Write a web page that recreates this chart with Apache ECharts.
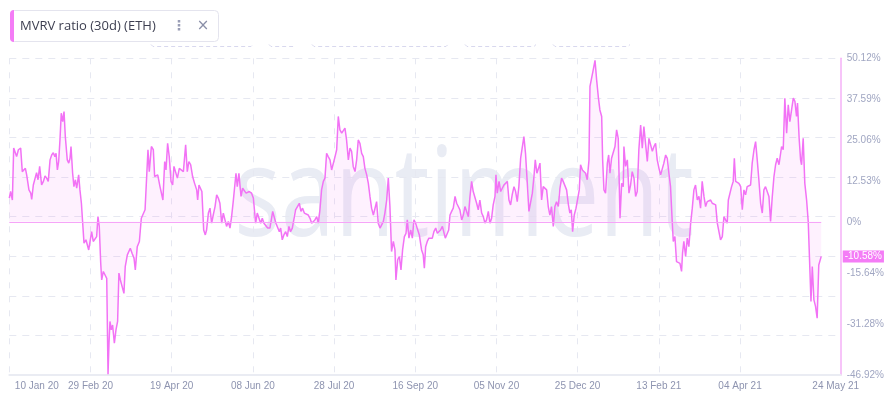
<!DOCTYPE html>
<html>
<head>
<meta charset="utf-8">
<script src="https://cdn.jsdelivr.net/npm/echarts@6/dist/echarts.min.js"></script>
<style>
html,body{margin:0;padding:0;background:#fff;}
#chart{width:895px;height:395px;}
</style>
</head>
<body>
<div id="chart"></div>
<script>
// ---- DATA ----
const chartTitle = 'MVRV ratio (30d) (ETH)';
// x: days since 10 Jan 2020
const dayOffsets = [
0.0,0.8,1.9,2.7,3.5,4.5,5.6,7.0,8.0,9.1,9.9,10.7,12.1,13.2,13.8,14.8,15.8,16.8,17.7,18.7,
19.9,21.0,22.0,23.0,24.0,25.1,26.1,27.1,28.1,28.8,29.6,30.4,31.2,32.0,32.9,33.7,34.5,35.7,36.6,37.4,
38.0,39.0,39.8,40.7,41.5,42.7,43.5,44.4,45.2,46.0,47.2,48.0,48.9,49.7,50.7,51.7,52.8,53.8,54.6,55.4,
56.3,56.9,57.9,59.1,60.0,60.8,61.4,62.0,62.8,63.6,64.7,65.7,66.7,67.5,68.4,69.4,70.6,71.4,72.7,73.5,
74.5,75.6,76.8,77.6,78.8,80.1,81.3,82.5,83.6,84.6,85.4,86.2,87.5,88.7,89.5,90.3,91.4,92.8,93.6,94.6,
95.7,96.5,97.5,98.5,99.6,100.6,101.4,102.4,103.5,104.7,105.7,107.2,108.6,109.6,110.6,111.7,112.9,114.1,115.4,116.0,
116.8,117.8,118.6,119.7,120.7,121.5,122.6,123.6,124.6,125.6,126.7,
127.7,128.7,129.7,130.8,131.8,132.8,133.8,134.9,135.9,136.9,137.9,138.6,139.6,140.4,141.4,142.7,143.7,144.7,145.8,146.8,
147.8,149.2,150.3,151.7,152.7,153.8,154.8,155.8,156.8,157.9,159.1,160.5,162.2,163.2,164.2,165.3,166.3,167.1,168.1,169.1,
170.2,171.2,172.2,173.2,174.3,175.3,176.3,177.4,178.6,179.6,180.6,181.7,182.7,184.1,185.2,186.2,187.2,188.2,189.3,190.3,
191.3,192.3,193.4,194.4,195.4,196.4,197.5,198.5,199.5,200.6,201.6,202.6,203.6,204.7,205.7,206.7,207.7,208.8,209.8,210.8,
211.8,212.9,213.9,214.9,215.9,217.0,218.0,219.0,220.1,221.1,222.1,223.1,224.2,225.2,226.2,227.2,228.3,229.3,230.3,231.3,
232.4,233.4,234.4,235.4,236.5,237.5,238.1,239.2,240.2,241.2,242.2,243.3,244.3,245.1,246.1,247.2,248.2,249.2,250.2,251.3,
252.5,
253.9,254.9,255.6,256.4,257.4,258.4,259.5,260.5,261.5,262.6,263.6,264.6,265.6,266.7,267.7,268.5,269.5,270.6,271.4,272.4,
273.4,274.5,275.5,276.5,277.5,278.6,279.6,280.6,281.6,282.7,283.7,284.7,285.7,286.8,287.8,288.8,289.8,290.9,291.9,292.9,
293.9,295.0,296.0,297.0,298.0,299.1,299.7,300.5,301.6,302.6,303.6,304.6,305.6,306.7,307.7,308.7,309.7,310.8,311.8,312.8,
313.8,314.9,315.9,316.9,317.9,319.0,320.0,321.0,322.1,323.1,323.9,324.9,325.9,326.8,327.8,328.8,329.8,330.9,331.9,332.9,
333.9,335.0,336.0,337.0,338.1,339.1,340.1,341.1,342.2,343.2,344.2,345.2,346.1,346.9,347.9,349.0,350.0,351.0,351.8,352.9,
353.9,354.9,355.9,357.0,357.6,358.6,359.6,360.7,361.7,362.7,363.7,364.8,365.4,366.2,367.2,368.3,369.1,369.9,370.9,372.0,
373.0,374.0,375.0,376.1,377.1,378.1,
378.5,379.5,380.6,381.6,382.6,383.6,384.7,385.7,386.7,387.7,388.8,389.8,390.8,391.9,392.9,393.9,394.9,396.0,397.0,398.0,
399.0,400.1,401.1,402.1,403.1,404.2,405.2,406.2,407.2,408.3,408.9,409.9,410.9,411.9,413.0,414.0,414.6,415.4,416.5,417.5,
418.5,419.6,420.6,421.6,422.6,423.7,424.7,425.7,426.7,427.8,428.8,429.8,430.8,431.9,432.9,433.9,435.0,436.0,437.0,438.0,
439.1,440.1,441.1,442.1,442.8,443.8,444.8,445.8,446.5,447.3,448.3,449.3,450.4,451.4,452.4,453.4,454.4,455.5,456.5,457.5,
458.6,459.6,460.6,461.6,462.7,463.7,464.7,465.7,466.8,467.8,468.8,469.8,470.9,471.9,472.9,474.0,475.0,475.6,476.6,477.6,
478.7,479.7,480.7,481.7,482.8,483.8,484.8,485.4,486.4,487.3,487.9,488.9,489.9,491.0,492.0,493.0,493.7,494.5,495.5,496.5,
497.5,498.5,500.0
];
// y: MVRV ratio (30d), percent
const mvrvValues = [
7.3,9.3,6.7,22.6,22.1,20.0,22.1,22.6,15.4,15.1,16.4,14.4,9.8,8.8,6.9,11.3,11.8,15.1,12.9,17.0,
11.3,12.4,14.1,13.4,12.4,19.0,20.5,21.2,20.0,21.0,15.9,18.5,25.1,33.3,30.7,33.8,26.1,19.0,18.0,19.5,
23.1,14.9,10.8,12.9,10.3,14.4,9.8,5.7,-0.4,-6.5,-5.5,-5.7,-8.6,-8.6,-3.0,-6.0,-6.0,-4.5,1.6,-1.4,
-12.7,-17.8,-15.2,-15.2,-17.3,-46.7,-37.2,-30.5,-33.1,-31.6,-37.2,-33.1,-30.5,-15.7,-17.8,-17.3,-21.9,-13.7,-10.1,-9.6,
-8.1,-9.6,-11.1,-14.7,-7.6,-6.0,1.1,1.1,3.7,4.2,22.1,15.4,23.1,22.1,13.9,13.4,14.4,10.8,10.3,6.7,
18.5,15.9,24.1,20.0,12.4,11.3,17.0,16.4,13.4,16.4,16.1,15.4,23.6,15.4,18.5,17.5,13.9,11.8,9.8,6.7,
11.3,10.8,9.3,-2.5,-4.0,-2.5,2.7,4.2,-0.4,2.1,4.7,
8.3,7.3,5.7,-0.4,2.7,3.2,-1.4,0.1,-1.9,1.6,6.2,6.7,14.9,10.8,14.9,7.8,10.3,10.3,8.8,8.3,
9.3,8.8,7.3,-0.4,2.7,2.7,-0.4,1.1,-0.4,-0.9,-1.9,-1.9,3.2,3.7,-0.4,-0.9,-3.0,-1.9,-5.5,-4.0,
-3.0,-4.5,-1.4,-3.0,-1.9,-1.4,3.7,4.2,5.7,3.2,4.2,2.7,2.7,2.1,1.1,-0.4,-0.4,0.6,1.6,-0.4,
3.7,9.8,12.4,13.4,21.0,20.0,19.0,15.9,15.4,20.0,22.1,32.3,28.2,27.2,27.7,28.7,25.1,19.0,22.6,21.6,
17.0,15.4,19.0,25.1,24.1,21.0,20.0,16.4,14.4,11.8,7.8,4.2,2.1,1.6,6.2,-0.4,-1.9,-0.9,0.1,2.7,
6.7,13.4,4.7,-9.1,-6.0,-8.6,-17.8,-11.6,-10.6,-14.7,-8.6,-4.5,-3.5,0.6,-5.0,-2.5,-5.0,0.6,-0.4,0.1,
-4.0,
-8.6,-10.1,-14.2,-7.6,-6.0,-5.0,-4.5,-5.0,-3.0,-1.9,-3.5,-4.0,-2.5,-1.4,-1.4,-5.0,-4.5,-2.5,2.1,3.2,
4.2,7.8,5.7,4.7,3.7,0.6,2.1,4.7,5.2,1.6,7.8,12.4,9.3,8.8,5.7,3.7,6.7,2.7,1.6,-0.4,
0.6,3.2,-0.4,1.1,5.2,7.8,14.4,8.8,12.4,9.3,10.3,11.3,10.8,12.4,6.7,5.2,8.3,10.8,9.3,6.2,
10.8,19.5,20.0,26.1,21.0,11.8,3.2,2.7,8.8,13.9,19.0,14.9,16.4,18.0,6.7,10.8,11.3,9.8,4.7,2.1,
4.7,-1.4,4.7,6.2,4.7,10.3,13.4,12.4,12.9,9.8,5.7,2.7,3.7,-3.0,2.1,4.2,4.7,9.8,17.5,15.9,
16.4,14.9,12.9,19.0,41.5,42.0,46.6,49.5,43.5,38.4,34.3,32.3,19.0,9.8,8.8,18.0,20.5,14.9,19.5,19.0,
23.1,28.2,25.6,1.1,11.8,10.8,
23.1,17.0,19.0,8.8,11.3,15.4,13.4,7.8,9.3,22.1,29.7,22.6,29.2,23.6,18.5,25.6,25.6,21.6,23.1,24.1,
19.0,16.4,14.4,13.9,18.0,20.5,19.5,14.9,10.8,-0.4,-6.0,-4.5,-12.2,-12.7,-12.7,-15.2,-9.6,-6.0,-10.6,-5.0,
-7.6,-0.4,4.2,9.8,11.3,6.7,7.8,4.2,12.4,7.8,4.7,6.2,5.7,6.7,5.7,6.2,5.2,-0.4,-0.4,-5.5,
-4.5,1.6,2.1,-0.4,6.7,7.3,10.8,12.4,19.5,12.4,11.8,11.8,10.8,3.7,9.8,8.3,10.8,10.8,11.3,18.0,
22.1,24.6,19.0,12.9,5.7,2.7,9.8,10.8,10.3,7.8,0.1,7.3,13.9,17.5,19.5,17.5,17.0,23.1,22.1,37.9,
27.2,35.9,30.7,30.2,37.9,36.9,32.3,36.4,25.6,19.0,17.5,25.6,11.8,6.7,0.1,0.1,-24.4,-13.7,-23.9,-25.9,
-29.5,-13.2,-10.58
];
const xTickDays = [0, 50, 100, 150, 200, 250, 300, 350, 400, 450, 500];
const xTickLabels = ['10 Jan 20','29 Feb 20','19 Apr 20','08 Jun 20','28 Jul 20','16 Sep 20','05 Nov 20','25 Dec 20','13 Feb 21','04 Apr 21','24 May 21'];
const xGridDays = [0, 50, 100, 150, 200, 250, 300, 350, 400, 450];
const yTickValues = [50.12, 37.59, 25.06, 12.53, 0, -15.64, -31.28, -46.92];
const yMin = -46.92, yMax = 50.12, xMax = 512;

// ---- CHART ----
const seriesData = dayOffsets.map((d, i) => [d, mvrvValues[i]]);
const lastDay = dayOffsets[dayOffsets.length - 1];
const lastVal = mvrvValues[mvrvValues.length - 1];
const pink = '#f272f5';
const labelColor = '#a0a6c2';
const gridColor = '#e6e8f1';
const font = 'Liberation Sans, Arial, sans-serif';

const chart = echarts.init(document.getElementById('chart'), null, {renderer: 'canvas'});

const bracketSegs = [[151,253],[269,295],[312,448],[465,536],[553,630]];
const graphics = [
  {
    type: 'text', z: -10, x: 464, y: 200, scaleX: 0.78,
    style: {text: 'santiment', fill: '#e9ecf4', font: '400 125px "Open Sans"', textAlign: 'center', textVerticalAlign: 'middle'}
  },
  {type: 'rect', shape: {x: 10.5, y: 10.5, width: 208, height: 31, r: 4}, style: {fill: '#fff', stroke: '#e4e4ee', lineWidth: 1}},
  {type: 'rect', shape: {x: 10, y: 10, width: 4, height: 32, r: [4,0,0,4]}, style: {fill: '#f47cf6'}},
  {type: 'text', x: 20, y: 26.5, style: {text: chartTitle, fill: '#3c3e50', font: '13px "Open Sans"', textVerticalAlign: 'middle'}},
  {type: 'text', x: 179, y: 26, style: {text: '⋮', fill: '#9a9eb6', font: 'bold 14px "DejaVu Sans"', textAlign: 'center', textVerticalAlign: 'middle'}},
  {type: 'text', x: 203, y: 26, style: {text: '×', fill: '#8a8fa8', font: '15px "DejaVu Sans"', textAlign: 'center', textVerticalAlign: 'middle'}}
];
bracketSegs.forEach(s => {
  graphics.push({type: 'polyline', shape: {points: [[s[0], 44.5], [s[0] + 2, 46.5], [s[1] - 2, 46.5], [s[1], 44.5]]},
    style: {stroke: '#d8d8ee', lineWidth: 1, lineDash: [4, 3], fill: null}});
});

chart.setOption({
  animation: false,
  backgroundColor: '#fff',
  graphic: graphics,
  grid: {left: 9.3, right: 54.3, top: 58.3, bottom: 20, containLabel: false, outerBoundsMode: 'none'},
  xAxis: {
    type: 'value', min: 0, max: xMax,
    axisLine: {show: true, onZero: false, lineStyle: {color: '#eaecf3', width: 2}},
    axisTick: {show: false, customValues: xGridDays},
    splitLine: {show: true, lineStyle: {color: gridColor, type: [6, 8], width: 1}},
    axisLabel: {
      customValues: xTickDays, color: '#8e94b0', fontSize: 10, fontFamily: font, margin: 6,
      formatter: function (v) {
        const i = xTickDays.indexOf(v);
        if (i === 0) return '{first|' + xTickLabels[i] + '}';
        if (i === xTickLabels.length - 1) return '{last|' + xTickLabels[i] + '}';
        return i >= 0 ? xTickLabels[i] : '';
      },
      rich: {
        first: {padding: [0, 0, 0, 55], color: '#8e94b0', fontSize: 10, fontFamily: font},
        last: {padding: [0, 0, 0, 29], color: '#8e94b0', fontSize: 10, fontFamily: font}
      }
    }
  },
  yAxis: [
    {
      type: 'value', position: 'right', min: yMin, max: yMax,
      axisLine: {show: true, onZero: false, lineStyle: {color: '#f5b0f7', width: 1.5}},
      axisTick: {show: false},
      splitLine: {show: false},
      axisLabel: {
        customValues: yTickValues, color: labelColor, fontSize: 10, fontFamily: font, margin: 6,
        formatter: v => v + '%'
      }
    },
    {
      type: 'value', position: 'left', min: 0, max: 8, interval: 1,
      axisLine: {show: false}, axisTick: {show: false}, axisLabel: {show: false},
      splitLine: {show: true, lineStyle: {color: gridColor, type: [7, 6], width: 1}}
    }
  ],
  series: [{
    type: 'line', yAxisIndex: 0, data: seriesData, showSymbol: false, symbol: 'none',
    lineStyle: {color: pink, width: 1.5},
    areaStyle: {color: 'rgba(243,115,246,0.14)', origin: 0},
    z: 3,
    markLine: {
      silent: true, symbol: 'none', animation: false,
      data: [
        [{coord: [0, 0], lineStyle: {color: '#f6a5f8', width: 1, type: 'solid'}, label: {show: false}},
         {coord: [lastDay, 0]}],
        {yAxis: lastVal, lineStyle: {color: 'rgba(0,0,0,0)', width: 0},
         label: {show: true, position: 'end', distance: 2, formatter: lastVal + '%', color: '#ffffff',
                 backgroundColor: '#f47cf6', padding: [1, 2, 1, 2], fontSize: 10, fontFamily: font, opacity: 1}}
      ]
    }
  }]
});
</script>
</body>
</html>
